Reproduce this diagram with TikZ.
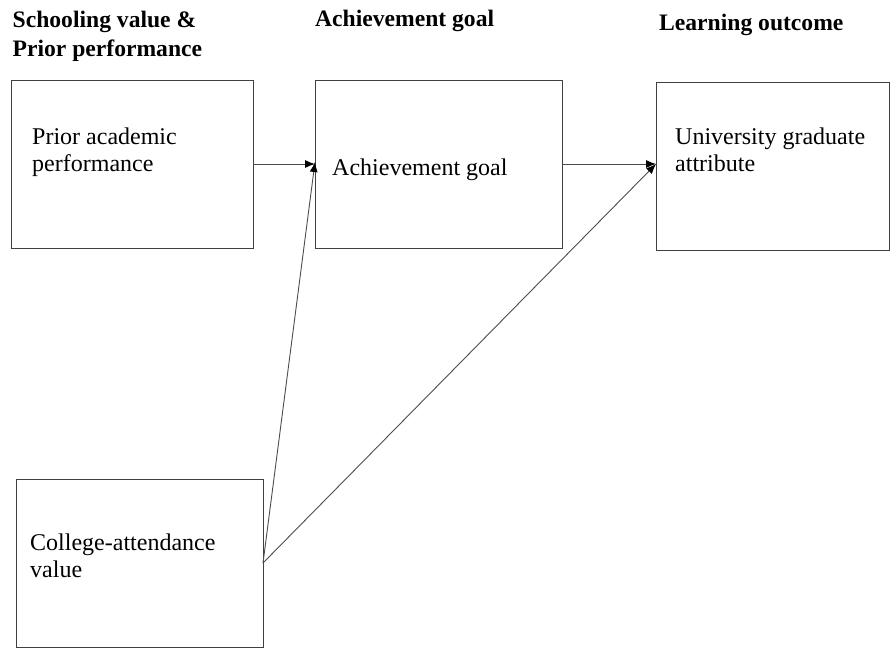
\documentclass[tikz,border=0pt]{standalone}
\usepackage{fontspec}
\setmainfont{Liberation Serif}
\usetikzlibrary{arrows.meta}
\begin{document}
\begin{tikzpicture}[x=1pt,y=-1pt,
  box/.style={draw=black!75, line width=0.9pt, rectangle, inner sep=0pt, outer sep=0pt, anchor=north west},
  boxtext/.style={anchor=base west, align=left, inner sep=0pt, font=\fontsize{24}{26.7}\selectfont},
  head/.style={anchor=base west, align=left, inner sep=0pt, font=\fontsize{23.6}{29}\selectfont\bfseries},
  conn/.style={draw=black!70, line width=0.9pt, -{Latex[length=10pt,width=8pt,color=black]}}]
\useasboundingbox (0,0) rectangle (890,648);
% headers
\node[head] (h1) at (12.5,56.5) {Schooling value \&\\Prior performance};
\node[head] (h2) at (315,26) {Achievement goal};
\node[head] (h3) at (659,30) {Learning outcome};
% boxes
\node[box, minimum width=242pt, minimum height=168pt] (b1) at (11,80) {};
\node[box, minimum width=247pt, minimum height=168pt] (b2) at (315,80) {};
\node[box, minimum width=233.5pt, minimum height=168pt] (b3) at (656,82) {};
\node[box, minimum width=247pt, minimum height=168pt] (b4) at (16,479) {};
% box texts
\node[boxtext] (t1) at (32,171.5) {Prior academic\\performance};
\node[boxtext] (t2) at (332,175) {Achievement goal};
\node[boxtext] (t3) at (675,171) {University graduate\\attribute};
\node[boxtext] (t4) at (30,577) {College-attendance\\value};
% connectors
\draw[conn] (b1.east) -- (b2.west);
\draw[conn] (b2.east) -- ([yshift=2pt]b3.west);
\draw[conn] (b4.east) -- ([yshift=2pt]b2.west);
\draw[conn] (b4.east) -- ([yshift=2pt]b3.west);
\end{tikzpicture}
\end{document}
